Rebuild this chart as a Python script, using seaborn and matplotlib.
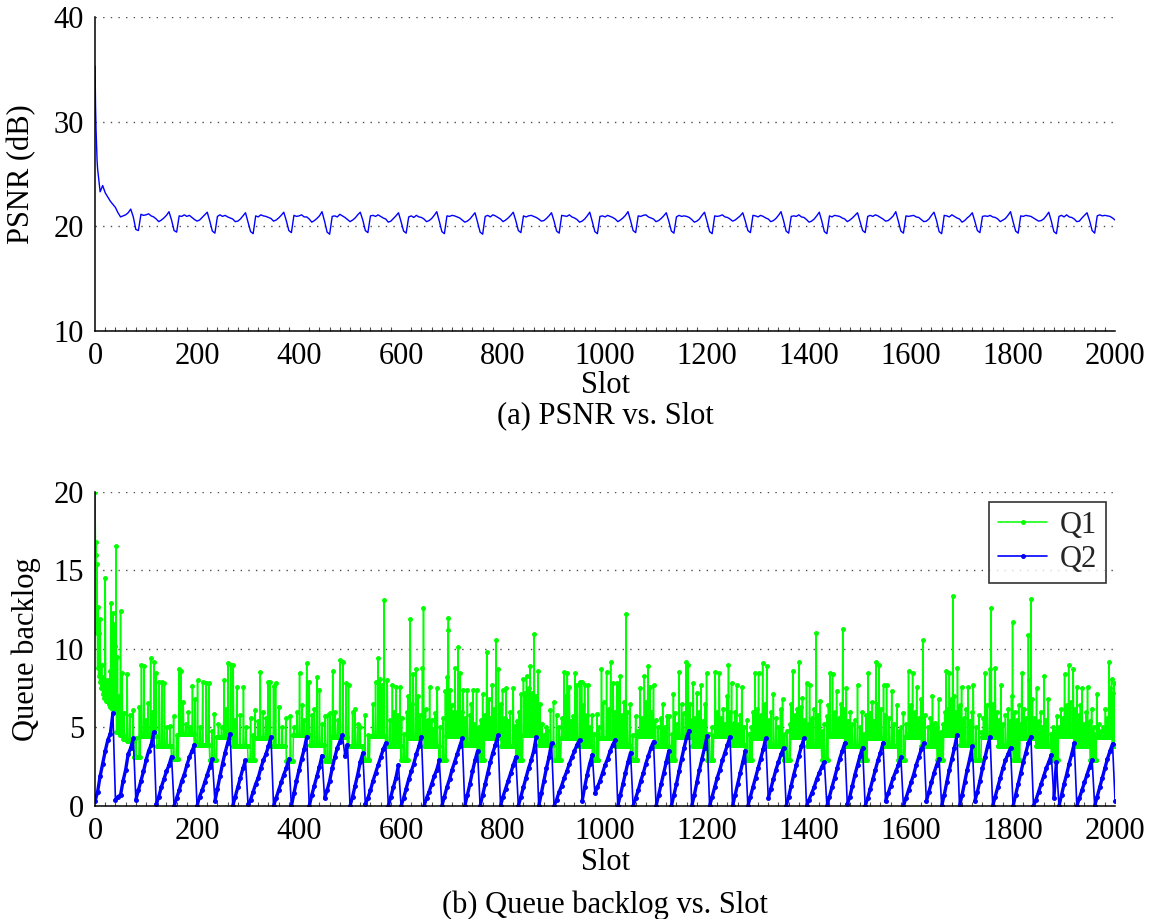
import numpy as np
import matplotlib
matplotlib.use("Agg")
import matplotlib.pyplot as plt
import seaborn as sns
from matplotlib.ticker import MultipleLocator

sns.set_theme(style="white")
plt.rcParams["font.family"] = ["Liberation Serif", "DejaVu Serif"]

# ---------------- data: (a) PSNR ----------------
psnr_head_slot = [0, 1, 2, 3, 4, 5, 10, 15, 20, 25, 30, 35, 40, 45, 50, 55, 60, 65, 70, 75, 80, 85]
psnr_head_val = [35.3, 31.5, 29.2, 27.6, 26.3, 25.5, 23.3, 23.9, 23.2, 22.8, 22.4, 22.1, 21.8, 21.3,
                 20.9, 21.0, 21.1, 21.3, 21.65, 20.9, 19.7, 19.6]
# one row per 75-slot cycle, sampled every 5 slots from slot 90 on
psnr_cycles = [
    [21.15, 21.05, 21.1, 21.2, 21.0, 20.9, 20.7, 20.45, 20.6, 20.8, 21.05, 21.4, 20.6, 19.6, 19.45],
    [21.0, 20.95, 21.1, 20.95, 21.05, 20.85, 20.65, 20.5, 20.6, 20.85, 21.1, 21.35, 20.5, 19.55, 19.35],
    [20.95, 21.1, 20.95, 21.05, 20.9, 20.8, 20.7, 20.45, 20.5, 20.7, 21.0, 21.3, 20.4, 19.5, 19.3],
    [21.0, 20.9, 21.1, 21.0, 20.95, 20.85, 20.75, 20.5, 20.6, 20.8, 21.05, 21.35, 20.55, 19.6, 19.4],
    [21.05, 20.95, 21.0, 21.1, 20.9, 20.9, 20.7, 20.4, 20.55, 20.75, 21.0, 21.4, 20.5, 19.45, 19.25],
    [20.95, 21.0, 20.9, 21.15, 21.0, 20.85, 20.65, 20.45, 20.6, 20.8, 21.1, 21.35, 20.6, 19.6, 19.4],
    [21.0, 21.05, 20.95, 21.1, 20.95, 20.8, 20.7, 20.4, 20.5, 20.75, 21.0, 21.3, 20.45, 19.55, 19.35],
    [20.9, 21.0, 20.85, 21.05, 20.9, 20.85, 20.7, 20.45, 20.55, 20.75, 21.05, 21.4, 20.5, 19.5, 19.3],
    [21.0, 20.95, 21.05, 21.0, 20.9, 20.8, 20.6, 20.4, 20.5, 20.7, 21.0, 21.3, 20.4, 19.45, 19.25],
    [20.95, 21.05, 20.9, 21.1, 21.0, 20.85, 20.7, 20.45, 20.6, 20.8, 21.05, 21.35, 20.55, 19.6, 19.4],
    [21.0, 20.9, 21.0, 21.05, 20.95, 20.85, 20.7, 20.5, 20.55, 20.75, 21.0, 21.3, 20.5, 19.55, 19.35],
    [21.05, 21.0, 20.95, 21.1, 20.9, 20.8, 20.65, 20.4, 20.5, 20.7, 21.0, 21.35, 20.45, 19.5, 19.3],
    [20.95, 21.0, 20.9, 21.05, 20.95, 20.85, 20.7, 20.45, 20.6, 20.8, 21.05, 21.4, 20.55, 19.6, 19.4],
    [21.0, 20.95, 21.05, 21.1, 20.9, 20.8, 20.7, 20.45, 20.55, 20.75, 21.0, 21.3, 20.5, 19.55, 19.35],
    [20.9, 21.05, 20.95, 21.0, 20.95, 20.85, 20.65, 20.4, 20.5, 20.7, 21.05, 21.35, 20.45, 19.5, 19.3],
    [21.0, 20.95, 21.0, 21.1, 20.9, 20.85, 20.7, 20.5, 20.6, 20.8, 21.0, 21.3, 20.5, 19.6, 19.4],
    [21.05, 21.0, 20.9, 21.05, 20.95, 20.8, 20.7, 20.45, 20.55, 20.75, 21.05, 21.4, 20.55, 19.55, 19.35],
    [20.95, 21.0, 20.95, 21.1, 20.9, 20.85, 20.65, 20.4, 20.5, 20.7, 21.0, 21.35, 20.5, 19.5, 19.3],
    [21.0, 20.9, 21.05, 21.0, 20.95, 20.8, 20.7, 20.45, 20.6, 20.8, 21.05, 21.3, 20.45, 19.6, 19.4],
    [20.95, 21.05, 20.95, 21.1, 21.0, 20.85, 20.7, 20.5, 20.55, 20.75, 21.0, 21.4, 20.5, 19.55, 19.35],
    [21.0, 20.95, 21.0, 21.05, 20.9, 20.85, 20.65, 20.45, 20.5, 20.7, 21.05, 21.35, 20.55, 19.5, 19.3],
    [21.05, 21.0, 20.9, 21.1, 20.95, 20.8, 20.7, 20.4, 20.55, 20.8, 21.0, 21.3, 20.5, 19.6, 19.4],
    [20.95, 21.0, 20.95, 21.05, 20.9, 20.85, 20.7, 20.45, 20.6, 20.75, 21.05, 21.4, 20.45, 19.55, 19.35],
    [21.0, 20.95, 21.05, 21.0, 20.95, 20.8, 20.65, 20.5, 20.55, 20.7, 21.0, 21.35, 20.5, 19.5, 19.3],
    [20.95, 21.05, 20.9, 21.1, 20.9, 20.85, 20.7, 20.45, 20.5, 20.8, 21.05, 21.3, 20.55, 19.6, 19.35],
    [21.0, 21.1, 21.0, 21.05, 21.0, 20.95, 20.8, 20.6],
]

# ---------------- data: (b) queue backlog ----------------
# Q2, sampled every 5 slots (0..2000)
q2_val = [
    0.3, 0.9, 1.9, 2.7, 3.5, 4.2, 4.6, 5.9, 0.4, 0.6, 0.7, 1.6, 2.3, 3.3, 3.7, 4.3, 0.4, 1.0, 1.6, 2.2,
    2.9, 3.5, 3.9, 4.7, 0.1, 0.6, 1.2, 1.7, 2.2, 2.6, 3.15, 0.0, 0.5, 1.0, 1.6, 2.0, 2.6, 3.1, 3.5, 3.9,
    0.0, 0.6, 1.0, 1.5, 2.0, 2.5, 3.0, 0.3, 1.1, 1.9, 2.7, 3.4, 4.0, 4.6, 0.0, 0.6, 1.2, 1.8, 2.4, 2.9,
    0.1, 0.4, 0.9, 1.4, 1.8, 2.4, 2.9, 3.3, 3.8, 4.4, 0.0, 0.5, 1.0, 1.5, 2.0, 2.4, 3.0, 0.0, 0.8, 1.6,
    2.3, 3.0, 3.6, 4.4, 0.0, 0.7, 1.3, 1.9, 2.5, 3.2, 0.5, 1.0, 1.6, 2.4, 3.1, 3.7, 4.1, 4.5, 3.2, 3.9,
    0.0, 0.6, 1.3, 2.0, 2.8, 3.35, 0.1, 0.5, 1.0, 1.6, 2.1, 2.6, 3.1, 3.6, 4.0, 0.0, 0.6, 1.2, 1.8, 2.6,
    0.0, 0.5, 1.1, 1.7, 2.2, 2.7, 3.3, 3.8, 4.4, 0.0, 0.5, 0.9, 1.4, 1.9, 2.3, 2.9, 0.0, 0.6, 1.2, 1.7,
    2.3, 2.8, 3.3, 3.8, 4.3, 0.0, 0.7, 1.4, 2.2, 2.9, 3.5, 0.0, 0.7, 1.4, 2.1, 2.8, 3.4, 3.9, 4.5, 0.0,
    0.6, 1.1, 1.6, 2.1, 2.6, 3.1, 0.0, 0.6, 1.2, 1.8, 2.4, 2.9, 3.5, 4.4, 0.0, 0.8, 1.6, 2.4, 3.1, 4.0,
    0.0, 0.4, 0.9, 1.3, 1.8, 2.2, 2.7, 3.1, 3.5, 3.9, 4.2, 0.3, 1.2, 2.0, 2.7, 3.25, 0.8, 1.2, 1.6, 2.1,
    2.6, 3.0, 3.5, 3.9, 4.2, 0.0, 0.7, 1.4, 2.1, 2.8, 3.4, 0.0, 0.5, 1.0, 1.6, 2.1, 2.7, 3.2, 3.7, 4.1,
    0.0, 0.7, 1.4, 2.1, 2.8, 3.5, 0.0, 0.7, 1.4, 2.2, 3.0, 3.7, 4.4, 4.8, 0.0, 0.7, 1.5, 2.3, 3.0, 3.7,
    4.45, 0.0, 0.6, 1.2, 1.8, 2.3, 2.9, 3.4, 3.9, 4.4, 0.0, 0.7, 1.4, 2.1, 2.8, 3.5, 0.0, 0.6, 1.2, 1.8,
    2.4, 3.0, 3.6, 4.3, 0.5, 1.1, 1.7, 2.3, 2.8, 3.3, 3.7, 0.0, 0.6, 1.3, 2.0, 2.6, 3.2, 3.8, 4.3, 0.0,
    0.4, 0.8, 1.2, 1.7, 2.1, 2.5, 2.8, 0.0, 0.6, 1.2, 1.8, 2.4, 3.0, 3.5, 4.0, 0.1, 0.6, 1.3, 2.0, 2.6,
    3.2, 3.7, 0.0, 0.5, 1.1, 1.7, 2.3, 2.9, 3.4, 4.0, 0.3, 0.8, 1.3, 1.8, 2.2, 2.6, 3.1, 0.0, 0.5, 1.0,
    1.5, 2.0, 2.6, 3.1, 3.6, 4.0, 0.3, 0.9, 1.5, 2.1, 2.6, 3.0, 0.0, 0.7, 1.5, 2.3, 3.0, 3.7, 4.5, 0.0,
    0.7, 1.5, 2.3, 3.0, 3.8, 0.3, 0.9, 1.6, 2.4, 3.1, 3.8, 4.4, 0.0, 0.6, 1.2, 1.8, 2.4, 2.9, 3.3, 3.7,
    0.0, 0.7, 1.4, 2.1, 2.8, 3.4, 4.0, 4.4, 0.0, 0.4, 0.9, 1.4, 1.9, 2.4, 2.8, 3.25, 0.5, 2.8, 0.0, 0.7,
    1.4, 2.0, 2.7, 3.3, 4.0, 0.0, 0.5, 1.0, 1.5, 2.0, 2.5, 2.95, 0.0, 0.6, 1.2, 1.8, 2.4, 3.0, 3.5, 3.95,
    0.3,
]

# Q1 flat backlog levels: slot where each level starts, and the level
q1_level_start = [0, 1, 2, 3, 4, 5, 7, 9, 12, 15, 18, 22, 26, 30, 34, 38, 42, 48, 55, 62, 75,
                  89, 120, 150, 164, 195, 225, 239, 270, 300, 314, 345, 375, 389, 420, 450,
                  464, 495, 525, 539, 570, 600, 614, 645, 675, 689, 720, 750, 764, 795, 825,
                  839, 870, 900, 914, 945, 975, 989, 1020, 1050, 1064, 1095, 1125, 1139, 1170, 1200,
                  1214, 1245, 1275, 1289, 1320, 1350, 1364, 1395, 1425, 1439, 1470, 1500,
                  1514, 1545, 1575, 1589, 1620, 1650, 1664, 1695, 1725, 1739, 1770, 1800,
                  1814, 1845, 1875, 1889, 1920, 1950, 1964, 1995]
q1_level = [20.0, 16.0, 14.5, 11.0, 9.6, 8.8, 8.3, 7.9, 7.5, 7.1, 6.9, 6.7, 6.5, 6.3, 6.15, 6.0, 4.7, 4.5, 4.25, 4.15, 3.1,
            4.45, 3.85, 3.0, 4.6, 3.9, 2.9, 4.4, 3.85, 2.9, 4.35, 3.8, 2.85, 4.5, 3.9, 2.85,
            4.4, 3.8, 2.95, 4.45, 3.85, 2.9, 4.3, 3.8, 2.95, 4.45, 3.9, 2.9, 4.35, 3.8, 2.9,
            4.5, 3.9, 2.95, 4.35, 3.85, 2.9, 4.35, 3.85, 2.9, 4.45, 3.85, 2.95, 4.4, 3.8, 2.9,
            4.45, 3.9, 2.95, 4.35, 3.85, 2.9, 4.4, 3.85, 2.95, 4.45, 3.85, 2.9,
            4.35, 3.8, 2.95, 4.4, 3.85, 2.9, 4.5, 3.9, 2.95, 4.4, 3.85, 2.9,
            4.35, 3.8, 2.95, 4.45, 3.85, 2.9, 4.4, 3.8]

# Q1 spikes: (slot, backlog)
q1_spikes = [
    (2, 16.8), (4, 15.4), (6, 12.7), (8, 11.0), (10, 11.9), (13, 9.0), (16, 8.2), (20, 14.5), (23, 8.0),
    (26, 7.8), (29, 8.6), (31, 12.9), (33, 10.5), (35, 12.3), (37, 11.6), (39, 10.2), (41, 16.55), (44, 9.5),
    (47, 7.0), (50, 12.4), (53, 8.5), (57, 5.9), (63, 8.4), (68, 5.8), (75, 6.1), (80, 4.3), (87, 6.3),
    (91, 9.0), (96, 8.9), (100, 5.5), (104, 6.55), (109, 9.4), (112, 6.0), (116, 9.2), (120, 8.5), (126, 7.9),
    (131, 7.9), (136, 7.8), (141, 5.0), (147, 5.1), (154, 5.7), (160, 4.5), (165, 8.75), (168, 8.6), (173, 6.6),
    (178, 5.2), (183, 6.0), (187, 5.0), (191, 7.65), (196, 6.8), (201, 8.0), (206, 5.0), (211, 7.9), (218, 7.8),
    (223, 7.8), (229, 4.8), (234, 5.85), (242, 5.2), (248, 5.0), (253, 8.05), (257, 6.2), (261, 9.1), (266, 9.0),
    (271, 8.95), (275, 5.5), (278, 7.6), (284, 5.8), (291, 7.6), (296, 5.0), (305, 5.6), (310, 4.5), (314, 6.1),
    (320, 5.4), (324, 8.55), (330, 6.0), (335, 5.6), (339, 7.9), (343, 7.9), (350, 7.65), (354, 7.8), (361, 6.3),
    (367, 5.0), (374, 5.6), (383, 5.7), (390, 5.0), (396, 6.0), (401, 8.5), (406, 6.4), (410, 5.5), (415, 9.1),
    (420, 7.9), (425, 5.8), (430, 6.2), (435, 8.2), (440, 7.4), (445, 5.2), (451, 5.7), (456, 5.8), (461, 5.9),
    (466, 8.6), (471, 6.0), (476, 5.5), (480, 9.3), (486, 9.15), (492, 7.8), (497, 7.7),
    (505, 6.0), (510, 6.2), (515, 5.2), (520, 5.0), (529, 5.8), (535, 4.5), (545, 6.5), (550, 7.9), (555, 9.4),
    (559, 8.1), (563, 7.7), (567, 13.1), (573, 8.0), (578, 5.5), (583, 7.7), (587, 6.0), (590, 7.6), (594, 5.8),
    (598, 7.6), (601, 5.6), (606, 4.6), (611, 6.0), (614, 7.0), (618, 11.9), (621, 6.5), (624, 8.4), (629, 8.7),
    (633, 7.0), (637, 5.8), (642, 8.8), (644, 12.6), (648, 6.2), (652, 5.5), (656, 7.6), (660, 5.5), (663, 4.9),
    (667, 5.9), (671, 7.5), (676, 5.0), (682, 5.6), (687, 7.3), (690, 8.2), (692, 11.2), (693, 12.0), (696, 7.4),
    (699, 6.45), (702, 6.0), (706, 8.8), (709, 6.0), (712, 10.15), (716, 8.45), (719, 6.0), (722, 7.4), (726, 5.6),
    (730, 7.4), (735, 5.8), (738, 6.5), (741, 7.4), (744, 5.2), (748, 7.4), (752, 5.0), (756, 5.5), (760, 7.1),
    (764, 5.8), (768, 9.8), (772, 6.8), (775, 5.6), (778, 7.7), (782, 6.2), (786, 10.6), (791, 8.7), (795, 6.5),
    (799, 7.4), (803, 5.6), (806, 7.5), (810, 5.4), (814, 6.0), (820, 7.5), (824, 5.1), (827, 5.4), (831, 6.0),
    (835, 7.1), (840, 8.1), (843, 7.2), (846, 8.3), (850, 7.5), (853, 8.9), (857, 7.2), (861, 10.95), (865, 7.0),
    (869, 8.6), (872, 6.5), (876, 5.2), (880, 4.5), (884, 5.0), (888, 4.8), (893, 6.1), (899, 6.6), (905, 5.8),
    (910, 5.0), (915, 5.6), (920, 8.55), (923, 7.0), (926, 8.45), (930, 7.6), (934, 5.4), (937, 5.7), (941, 8.5),
    (945, 7.7), (950, 7.9), (954, 7.9), (957, 6.4), (960, 7.7), (964, 5.8), (967, 7.7), (971, 5.0), (974, 5.8),
    (979, 4.6), (984, 5.85), (988, 5.0), (993, 8.7), (997, 6.6),
    (1003, 8.55), (1007, 6.2), (1011, 9.15), (1016, 7.8), (1019, 6.0), (1023, 7.8), (1026, 7.7), (1029, 8.3),
    (1033, 5.8), (1037, 6.6), (1041, 12.2), (1044, 6.0), (1049, 6.5), (1054, 4.5), (1060, 5.7), (1064, 4.8),
    (1069, 7.5), (1073, 5.6), (1077, 8.3), (1081, 6.6), (1084, 8.9), (1088, 7.6), (1091, 6.0), (1095, 7.7),
    (1099, 5.5), (1104, 5.0), (1109, 5.6), (1113, 6.5), (1117, 5.0), (1121, 5.7), (1126, 5.7), (1131, 4.6),
    (1134, 7.1), (1137, 5.9), (1141, 5.2), (1145, 8.55), (1150, 6.5), (1154, 5.9), (1159, 9.2), (1163, 9.0),
    (1166, 6.5), (1170, 5.5), (1173, 7.8), (1177, 5.6), (1180, 7.2), (1184, 6.0), (1188, 7.7), (1192, 5.4),
    (1196, 6.5), (1199, 8.45), (1204, 4.6), (1209, 5.0), (1213, 4.5), (1216, 8.55), (1220, 6.0), (1224, 8.45),
    (1228, 5.6), (1232, 6.2), (1236, 5.2), (1239, 7.0), (1242, 9.0), (1245, 6.0), (1248, 7.8), (1252, 5.3),
    (1255, 6.0), (1258, 7.7), (1262, 5.2), (1265, 5.8), (1268, 7.6), (1272, 5.0), (1278, 5.5), (1283, 4.6),
    (1287, 5.0), (1290, 6.0), (1294, 8.5), (1297, 6.2), (1301, 8.45), (1305, 5.8), (1309, 9.1), (1313, 6.5),
    (1317, 8.9), (1321, 5.5), (1325, 6.0), (1330, 7.1), (1335, 5.6), (1340, 5.0), (1344, 6.2), (1348, 6.8),
    (1352, 4.6), (1357, 4.8), (1362, 5.2), (1365, 6.5), (1368, 8.6), (1372, 5.8), (1376, 6.2), (1380, 9.15),
    (1384, 6.3), (1387, 6.9), (1391, 5.5), (1395, 7.8), (1398, 5.2), (1401, 7.7), (1405, 5.6), (1409, 6.2),
    (1414, 11.0), (1418, 5.8), (1422, 6.7), (1426, 4.8), (1430, 5.2), (1435, 5.7), (1438, 6.4), (1441, 8.5),
    (1446, 8.4), (1450, 6.0), (1454, 7.3), (1458, 5.6), (1462, 6.5), (1466, 11.3), (1469, 6.2), (1473, 7.5),
    (1477, 5.4), (1481, 6.0), (1485, 5.2), (1490, 5.5), (1495, 7.7),
    (1500, 5.0), (1504, 6.0), (1508, 4.6), (1512, 5.8), (1516, 8.5), (1520, 5.9), (1524, 6.6), (1527, 5.4),
    (1531, 9.2), (1534, 6.5), (1537, 9.0), (1541, 6.2), (1546, 7.7), (1549, 5.8), (1552, 7.7), (1557, 5.6),
    (1562, 7.3), (1566, 5.2), (1572, 6.4), (1576, 4.8), (1580, 5.0), (1585, 5.9), (1590, 5.2), (1595, 8.6),
    (1599, 6.4), (1603, 8.5), (1607, 6.0), (1611, 7.6), (1615, 5.6), (1619, 6.8), (1623, 10.55), (1627, 5.8),
    (1633, 5.0), (1638, 5.6), (1642, 7.0), (1646, 5.3), (1650, 5.0), (1654, 6.8), (1658, 4.7), (1662, 5.2),
    (1666, 6.0), (1669, 8.6), (1672, 6.2), (1675, 8.5), (1678, 6.8), (1682, 13.4), (1685, 7.0), (1688, 6.0),
    (1691, 8.8), (1695, 6.4), (1699, 7.6), (1703, 5.6), (1707, 6.2), (1712, 7.6), (1716, 5.4), (1719, 6.0),
    (1722, 7.7), (1727, 5.0), (1733, 5.8), (1738, 4.7), (1742, 5.6), (1745, 8.5), (1749, 6.4), (1754, 8.7),
    (1757, 12.6), (1761, 6.5), (1765, 8.8), (1769, 6.0), (1772, 5.5), (1776, 7.7), (1780, 5.2), (1785, 5.8),
    (1790, 6.2), (1794, 5.4), (1797, 7.0), (1799, 11.7), (1803, 6.0), (1807, 5.5), (1811, 6.4), (1814, 5.2),
    (1817, 8.5), (1821, 6.2), (1825, 5.6), (1830, 10.9), (1832, 8.0), (1835, 13.15), (1838, 6.8), (1842, 5.6),
    (1846, 7.5), (1850, 5.4), (1854, 6.0), (1857, 5.0), (1861, 8.3), (1865, 5.5), (1869, 6.8), (1874, 4.6),
    (1878, 5.0), (1882, 4.8), (1886, 5.7), (1890, 5.0), (1894, 6.2), (1898, 5.6), (1901, 8.4), (1905, 6.4),
    (1909, 9.0), (1913, 6.6), (1918, 8.75), (1921, 6.2), (1925, 7.6), (1929, 5.8), (1932, 6.4), (1935, 7.5),
    (1939, 5.2), (1943, 6.0), (1946, 7.6), (1950, 5.4), (1954, 6.2), (1958, 5.0), (1961, 4.6), (1964, 7.1),
    (1968, 5.2), (1972, 4.8), (1977, 5.0), (1981, 6.2), (1985, 5.6), (1988, 9.15), (1991, 7.5), (1993, 8.1),
    (1996, 7.2), (1998, 7.8),
]

x_ticks = [0, 200, 400, 600, 800, 1000, 1200, 1400, 1600, 1800, 2000]
psnr_ticks = [10, 20, 30, 40]
queue_ticks = [0, 5, 10, 15, 20]

# ---------------- assemble series ----------------
psnr_slot = np.array(psnr_head_slot + list(range(90, 2001, 5)))
psnr_val = np.array(psnr_head_val + [v for row in psnr_cycles for v in row])

q2_slot = np.arange(0, 2001, 5)
q2 = np.array(q2_val)
# each rising ramp of Q2 is its own unit (a new one starts after every drop)
q2_ramp = np.cumsum(np.diff(q2, prepend=q2[0]) < -0.3)

q1_slot = np.arange(0, 2001)
q1 = np.zeros(len(q1_slot))
for s, lv in zip(q1_level_start, q1_level):
    q1[s:] = lv
for s, v in q1_spikes:
    q1[s] = v

# ---------------- figure ----------------
FS = 22
LFS = 22
fig = plt.figure(figsize=(11.59, 9.19), dpi=100)
ax1 = fig.add_axes([0.082, 0.6398, 0.8801, 0.3417])
ax2 = fig.add_axes([0.082, 0.1230, 0.8801, 0.3417])

BLUE = "#0000ff"
GREEN = "#00ff00"

sns.lineplot(x=psnr_slot, y=psnr_val, ax=ax1, color=BLUE, linewidth=1.0,
             estimator=None, sort=False)

sns.lineplot(x=q1_slot, y=q1, ax=ax2, color=GREEN, linewidth=1.1, marker=".",
             markersize=5.5, markeredgecolor=GREEN, estimator=None, sort=False, label="Q1")
sns.lineplot(x=q2_slot, y=q2, ax=ax2, color=BLUE, linewidth=1.2, marker=".",
             markersize=5.5, markeredgecolor=BLUE, estimator=None, sort=False, label="Q2")
# dense per-slot dots of the original make the ramps look heavier than the drops
sns.lineplot(x=q2_slot, y=q2, units=q2_ramp, ax=ax2, color=BLUE, linewidth=2.4,
             estimator=None, sort=False, legend=False)

for ax, yt, ylab in [(ax1, psnr_ticks, "PSNR (dB)"), (ax2, queue_ticks, "Queue backlog")]:
    ax.set_xlim(0, 2000)
    ax.set_ylim(yt[0], yt[-1])
    ax.set_xticks(x_ticks)
    ax.set_yticks(yt)
    ax.xaxis.set_minor_locator(MultipleLocator(20))
    ax.tick_params(axis="both", which="major", direction="out", length=7, width=1.0,
                   labelsize=FS, colors="black", pad=1)
    ax.tick_params(axis="x", which="minor", direction="in", length=3, width=0.8, colors="0.3",
                   bottom=True)
    ax.yaxis.grid(True, linestyle=(0, (1, 4.5)), color="0.3", linewidth=1.0)
    ax.xaxis.grid(False)
    for side in ["top", "right"]:
        ax.spines[side].set_visible(False)
    for side in ["left", "bottom"]:
        ax.spines[side].set_color("black")
        ax.spines[side].set_linewidth(1.1)
    ax.set_xlabel("Slot", fontsize=LFS, color="black")
    ax.set_ylabel(ylab, fontsize=LFS, color="black")
    ax.set_facecolor("white")

ax1.yaxis.set_label_coords(-0.058, 0.5)
ax2.yaxis.set_label_coords(-0.053, 0.5)
ax1.xaxis.set_label_coords(0.5, -0.126)
ax2.xaxis.set_label_coords(0.5, -0.134)

leg = ax2.legend(loc="upper right", bbox_to_anchor=(0.991, 0.968), borderaxespad=0,
                 fontsize=LFS, frameon=True, fancybox=False, handlelength=1.6,
                 handletextpad=0.4, borderpad=0.3, labelspacing=0.15)
leg.get_frame().set_edgecolor("black")
leg.get_frame().set_linewidth(1.2)

fig.text(0.522, 1 - 416 / 919, "(a) PSNR vs. Slot", ha="center", va="center",
         fontsize=LFS, color="black")
fig.text(0.522, 1 - 905 / 919, "(b) Queue backlog vs. Slot", ha="center", va="center",
         fontsize=LFS, color="black")

fig.savefig("out.png", dpi=100, facecolor="white")
